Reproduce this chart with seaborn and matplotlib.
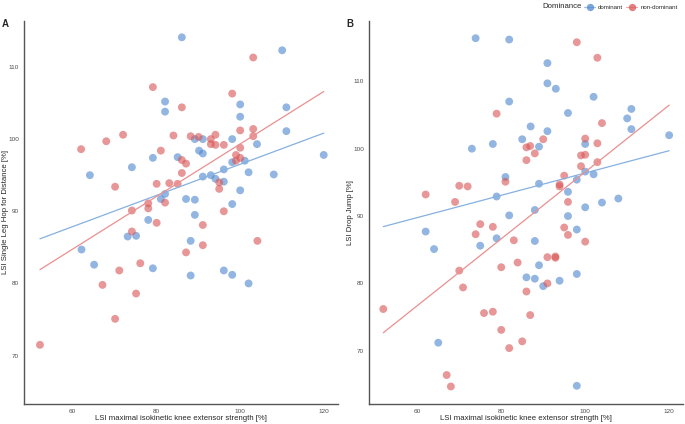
import numpy as np
import pandas as pd
import matplotlib
matplotlib.use("Agg")
import matplotlib.pyplot as plt
import seaborn as sns
from matplotlib.lines import Line2D

# ---- data ----
groups = ["dominant", "non-dominant"]

a_dom_x = [86.1,110.0,82.1,82.1,100.0,100.0,111.0,111.0,89.2,91.1,98.1,104.0,90.2,91.1,79.2,85.1,98.1,101.1,74.2,64.2,
           102.0,108.0,119.9,91.1,93.0,94.1,96.1,96.1,100.0,82.1,81.1,87.1,89.2,98.1,89.2,78.1,73.2,75.2,62.2,65.2,
           79.2,88.2,88.2,96.1,98.1,102.0]
a_dom_y = [114.1,112.3,105.2,103.8,104.8,103.1,104.4,101.1,100.0,100.0,100.0,99.3,98.4,98.0,97.4,97.5,96.8,97.0,96.1,95.0,
           95.4,95.1,97.8,94.8,95.0,94.5,95.8,94.1,92.9,92.4,91.7,91.7,91.6,91.0,89.5,88.8,86.5,86.6,84.7,82.6,
           82.1,85.9,81.1,81.8,81.2,80.0]
a_nd_x = [103.1,79.2,86.1,98.1,68.1,72.1,62.1,84.1,88.2,90.1,93.0,94.1,93.0,94.1,96.1,100.0,103.1,103.1,100.0,99.0,
          100.0,99.0,81.1,86.1,87.1,86.1,70.2,80.1,83.1,85.1,95.0,95.0,78.1,82.1,78.1,74.2,96.1,74.2,80.1,91.1,
          87.1,91.1,104.1,76.2,71.2,67.2,75.2,70.2,52.3]
a_nd_y = [111.3,107.2,104.4,106.3,99.7,100.6,98.6,100.5,100.4,100.3,100.0,100.6,99.3,99.2,99.2,101.2,101.4,100.4,98.8,97.8,
          97.4,97.0,98.4,97.1,96.6,95.3,93.4,93.8,93.9,93.8,94.0,93.1,91.1,91.2,90.4,90.1,90.0,87.2,88.4,88.1,
          84.3,85.3,85.9,82.8,81.8,79.8,78.6,75.1,71.5]

b_dom_x = [73.9,81.9,91.0,91.0,93.0,81.9,102.0,95.9,111.0,110.0,111.0,120.0,87.0,85.0,91.0,89.0,78.0,73.0,100.0,100.0,
           102.0,81.0,89.0,98.0,95.9,78.9,107.9,104.0,100.0,88.0,81.9,95.9,98.0,62.0,64.0,78.9,75.0,88.0,89.0,86.0,
           88.0,90.0,93.9,98.0,65.0,98.0]
b_dom_y = [116.4,116.2,112.7,109.7,108.9,107.0,107.7,105.3,105.9,104.5,102.9,102.0,103.3,101.4,102.6,100.3,100.7,100.0,100.7,96.6,
           96.2,95.8,94.8,95.4,93.6,92.9,92.6,92.0,91.3,90.9,90.1,90.0,88.0,87.7,85.1,86.7,85.6,86.3,82.7,80.9,
           80.7,79.6,80.4,81.4,71.2,64.8]
b_nd_x = [98.0,102.9,78.9,104.0,90.0,86.9,86.0,88.0,86.0,100.0,102.9,99.0,100.0,99.0,102.9,95.0,93.9,93.9,81.0,70.0,
          72.0,62.0,69.0,95.9,75.0,78.0,73.9,95.0,95.9,100.0,83.0,91.0,92.9,92.9,83.9,80.0,70.0,70.9,91.0,86.0,
          51.9,75.9,78.0,86.9,80.0,85.0,81.9,67.0,68.0]
b_nd_y = [115.8,113.5,105.2,103.8,101.4,100.4,100.2,99.3,98.3,101.5,100.8,99.0,99.1,97.4,98.0,96.0,94.7,94.4,95.1,94.5,
          94.4,93.2,92.1,92.1,88.8,88.4,87.3,88.3,87.2,86.2,86.4,83.9,84.0,83.8,83.1,82.4,81.9,79.4,80.0,78.8,
          76.2,75.6,75.8,75.3,73.1,71.4,70.4,66.4,64.7]

x_ticks = [60, 80, 100, 120]
y_ticks = [70, 80, 90, 100, 110]
x_label = "LSI maximal isokinetic knee extensor strength [%]"
a_ylabel = "LSI Single Leg Hop for Distance [%]"
b_ylabel = "LSI Drop Jump [%]"

# ---- style ----
sns.set_style("white")
plt.rcParams["font.family"] = ["Liberation Sans", "DejaVu Sans"]

pt_colors = {"dominant": "#5088cf", "non-dominant": "#d95757"}
line_colors = {"dominant": "#86b0e0", "non-dominant": "#eb8f8f"}


def make_df(dx, dy, nx, ny):
    return pd.concat([
        pd.DataFrame({"x": dx, "y": dy, "Dominance": "dominant"}),
        pd.DataFrame({"x": nx, "y": ny, "Dominance": "non-dominant"}),
    ], ignore_index=True)


dfA = make_df(a_dom_x, a_dom_y, a_nd_x, a_nd_y)
dfB = make_df(b_dom_x, b_dom_y, b_nd_x, b_nd_y)

W, H = 685, 424
fig = plt.figure(figsize=(W / 100, H / 100), dpi=100)
axA = fig.add_axes([24 / W, 1 - 404 / H, 314 / W, 383.3 / H])
axB = fig.add_axes([369 / W, 1 - 404 / H, 314 / W, 383.3 / H])


def draw(ax, df, ylabel, ylim, letter, letter_px):
    sns.scatterplot(data=df, x="x", y="y", hue="Dominance", hue_order=groups,
                    palette=pt_colors, s=32, alpha=0.62, linewidth=0, ax=ax, legend=False)
    ax.set_xlim(df["x"].min(), df["x"].max())
    for g in groups:
        sub = df[df["Dominance"] == g]
        sns.regplot(data=sub, x="x", y="y", scatter=False, ci=None, truncate=False,
                    line_kws={"color": line_colors[g], "lw": 0.9}, ax=ax)
    ax.set_xlim(48.5, 123.3)
    ax.set_ylim(*ylim)
    ax.set_xticks(x_ticks)
    ax.set_yticks(y_ticks)
    ax.tick_params(axis="both", labelsize=4.6, colors="#555555", length=2, width=0.6, pad=1.5)
    for lab in ax.get_xticklabels() + ax.get_yticklabels():
        lab.set_color("#4d4d4d")
    ax.set_xlabel(x_label, fontsize=5.6, va="center")
    ax.set_ylabel(ylabel, fontsize=5.6, va="center")
    ax.xaxis.set_label_coords(0.5, -0.039)
    ax.yaxis.set_label_coords(-0.0605, 0.5)
    sns.despine(ax=ax)
    for sp in ("left", "bottom"):
        ax.spines[sp].set_color("#555555")
        ax.spines[sp].set_linewidth(1.0)
    fig.text(letter_px / W, 1 - 24 / H, letter, fontsize=7, fontweight="bold",
             ha="center", va="center")


draw(axA, dfA, a_ylabel, (63.3, 116.4), "A", 5)
draw(axB, dfB, b_ylabel, (62.1, 119.0), "B", 350)

# legend
fig.text(542 / W, 1 - 7 / H, "Dominance", fontsize=5.6, ha="left", va="center")
handles = [Line2D([0], [0], color=line_colors[g], lw=0.9, marker="o", markersize=5.3,
                  markerfacecolor=pt_colors[g], markeredgewidth=0, alpha=0.75) for g in groups]
leg = fig.legend(handles, groups, loc="center left", bbox_to_anchor=(584 / W, 1 - 7 / H), ncol=2,
                 frameon=False, fontsize=4.4, handlelength=1.8, handletextpad=0.5, columnspacing=0.5,
                 borderaxespad=0, borderpad=0)

fig.savefig("out.png", dpi=100)
